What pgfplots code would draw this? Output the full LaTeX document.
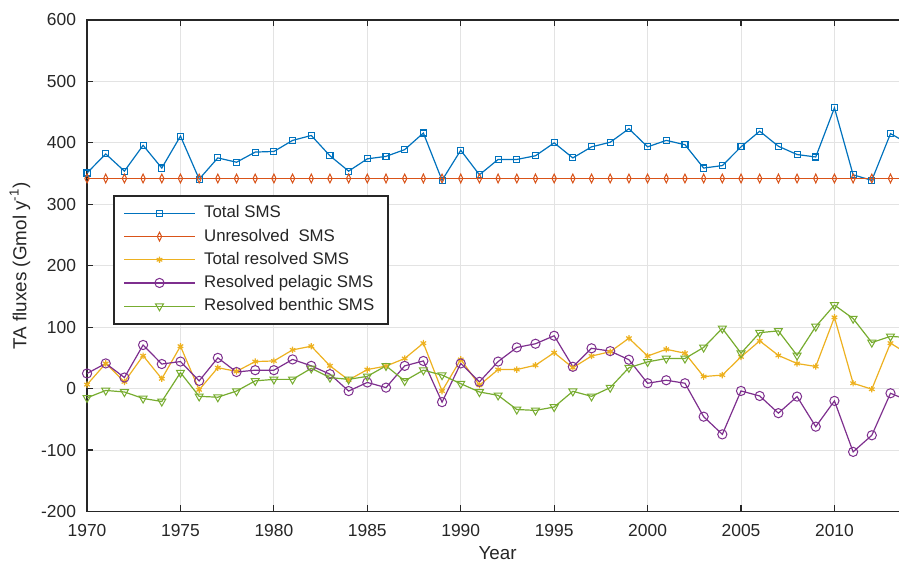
\documentclass[border=0pt]{standalone}
\usepackage{fontspec}
\setmainfont{Liberation Sans}
\usepackage{pgfplots}
\pgfplotsset{compat=1.18}
\definecolor{mblue}{rgb}{0,0.447,0.741}
\definecolor{morange}{rgb}{0.85,0.325,0.098}
\definecolor{myellow}{rgb}{0.929,0.694,0.125}
\definecolor{mpurple}{rgb}{0.494,0.184,0.556}
\definecolor{mgreen}{rgb}{0.466,0.674,0.188}
\definecolor{axgray}{gray}{0.15}
\pgfplotstableread{
year total unres resolved pelagic benthic
1970 351 342 6.5 24.6 -15
1971 382 342 41 41 -3
1972 354 342 11 18 -5.5
1973 396 342 53.5 71 -16
1974 359 342 16 40 -21
1975 411 342 69 44 26
1976 341 342 -2 12.6 -12.6
1977 375.5 342 34 50 -14
1978 368.5 342 28 27 -4
1979 385 342 44 30 12.6
1980 386 342 45 30 15
1981 404 342 63 47.5 15
1982 412 342 69 37 33
1983 379 342 37 23.5 18
1984 354 342 14 -4 15
1985 374 342 31 10 20
1986 378 342 36.6 1.6 37
1987 389 342 49 37 12.6
1988 416 342 74 45 30
1989 339 342 -4 -22 22
1990 388 342 47.5 41 8
1991 348 342 5.5 11 -5.5
1992 373 342 31 44 -11
1993 373 342 31 67 -34
1994 379 342 38 73 -35.5
1995 400 342 58.5 86 -30
1996 375.5 342 34 35.5 -4.4
1997 393.5 342 53 65.6 -12.6
1998 401 342 60 61 1.6
1999 423 342 82 47 34
2000 393.5 342 53 8.7 43.5
2001 404 342 64 13.6 49
2002 397 342 57.6 8.7 49
2003 359 342 19.6 -45.7 67
2004 363 342 22 -74.5 98
2005 393.5 342 51.6 -3.8 57.6
2006 419 342 77.7 -12 91
2007 394.5 342 54 -40 94
2008 381 342 40.8 -13 54
2009 377 342 36 -62 101
2010 457 342 116 -20 136
2011 348 342 8.7 -103 114
2012 339 342 -1 -76 75
2013 415 342 74 -7.6 85
2014 398 342 55 -20 83
}\datatable
\begin{document}
\begin{tikzpicture}
\begin{axis}[
  scale only axis, width=406pt, height=245.5pt,
  xmin=1970, xmax=2013.5, ymin=-200, ymax=600,
  xtick={1970,1975,...,2010}, ytick={-200,-100,...,600},
  xtick pos=both, ytick pos=left, tick align=inside,
  major tick length=3pt,
  grid=major, grid style={gray!22, line width=0.5pt},
  axis line style={axgray, line width=0.6pt},
  tick style={axgray, line width=0.6pt},
  ticklabel style={font=\fontsize{8.7}{10}\selectfont, text=axgray},
  xticklabel style={yshift=-3pt},
  yticklabel style={xshift=-2pt},
  /pgf/number format/assume math mode=true,
  /pgf/number format/1000 sep={},
  xlabel={Year}, ylabel={TA fluxes (Gmol y\textsuperscript{-1})},
  label style={font=\fontsize{9.4}{11}\selectfont, text=axgray},
  xlabel style={at={(axis description cs:0.505,-0.0855)}, anchor=center},
  ylabel style={at={(axis description cs:-0.0825,0.5)}, anchor=center},
  every axis plot/.append style={line width=0.6pt},
  legend style={at={(axis description cs:0.032,0.644)}, anchor=north west,
    draw=axgray, line width=0.8pt, font=\fontsize{8.4}{10}\selectfont,
    text=axgray, row sep=0pt, inner xsep=5pt, inner ysep=3pt, fill=white},
  legend cell align=left,
  legend image code/.code={\draw[#1, line width=0.6pt, mark repeat=2, mark phase=2] plot coordinates {(0pt,0pt) (17.5pt,0pt) (35pt,0pt)};\path (37.5pt,0pt);},
]
\addplot[mblue, mark=square, mark size=1.5pt, mark options={solid, line width=0.55pt}] table[x=year, y=total] {\datatable};
\addlegendentry{Total SMS}
\addplot[morange, mark=diamond, mark size=2.2pt, mark options={solid, xscale=0.65, line width=0.5pt}] table[x=year, y=unres] {\datatable};
\addlegendentry{Unresolved\ \ SMS}
\addplot[myellow, mark=asterisk, mark size=1.6pt, mark options={solid, line width=0.6pt}] table[x=year, y=resolved] {\datatable};
\addlegendentry{Total resolved SMS}
\addplot[mpurple, mark=o, mark size=2.3pt, mark options={solid, line width=0.5pt}] table[x=year, y=pelagic] {\datatable};
\addlegendentry{Resolved pelagic SMS}
\addplot[mgreen, mark=triangle, mark size=2.3pt, mark options={solid, rotate=180, line width=0.5pt}] table[x=year, y=benthic] {\datatable};
\addlegendentry{Resolved benthic SMS}
\coordinate (bbl) at (rel axis cs:-0.1071,-0.1079);
\coordinate (btr) at (rel axis cs:0.999,1.0407);
\end{axis}
\pgfresetboundingbox
\path[use as bounding box] (bbl) rectangle (btr);
\end{tikzpicture}
\end{document}
